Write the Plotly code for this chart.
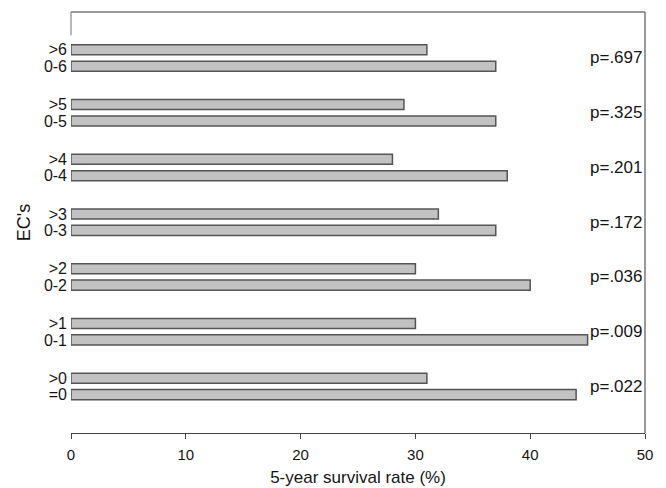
import plotly.graph_objects as go

# Data (group order: bottom to top)
high_labels = [">0", ">1", ">2", ">3", ">4", ">5", ">6"]
low_labels = ["=0", "0-1", "0-2", "0-3", "0-4", "0-5", "0-6"]
high_values = [31, 30, 30, 32, 28, 29, 31]
low_values = [44, 45, 40, 37, 38, 37, 37]
p_values = ["p=.022", "p=.009", "p=.036", "p=.172", "p=.201", "p=.325", "p=.697"]

n = len(high_labels)
offset = 0.15
bar_w = 0.185
groups = list(range(n))
y_high = [g + offset for g in groups]
y_low = [g - offset for g in groups]

font_family = "Liberation Sans, Arial, sans-serif"
txt = "#151515"
bar_fill = "#c2c2c2"
bar_line = "#555555"

fig = go.Figure()
fig.add_trace(go.Bar(
    x=high_values, y=y_high, orientation="h", width=bar_w,
    marker=dict(color=bar_fill, line=dict(color=bar_line, width=1.5)),
    showlegend=False, hoverinfo="x"))
fig.add_trace(go.Bar(
    x=low_values, y=y_low, orientation="h", width=bar_w,
    marker=dict(color=bar_fill, line=dict(color=bar_line, width=1.5)),
    showlegend=False, hoverinfo="x"))

for g, p in zip(groups, p_values):
    fig.add_annotation(x=1, xref="paper", y=g, yref="y", text=p,
                       xanchor="right", yanchor="middle", showarrow=False,
                       xshift=-1,
                       font=dict(family=font_family, size=17, color=txt))

# frame: top and right lines, short left segment at top
fig.add_shape(type="line", xref="paper", yref="paper", x0=0, x1=1, y0=1, y1=1,
              line=dict(color="#333333", width=1.2))
fig.add_shape(type="line", xref="paper", yref="paper", x0=1, x1=1, y0=0, y1=1,
              line=dict(color="#555555", width=1.2))
fig.add_shape(type="line", xref="paper", yref="paper", x0=0, x1=0, y0=0.945, y1=1,
              line=dict(color="#888888", width=1.2))

# page body adds an 8px margin; size/margins compensate for it
fig.update_layout(
    width=658, height=480,
    margin=dict(l=63, r=21, t=4, b=55),
    paper_bgcolor="white", plot_bgcolor="white",
    barmode="overlay",
    font=dict(family=font_family, color=txt),
    xaxis=dict(range=[0, 50], tickvals=[0, 10, 20, 30, 40, 50],
               showgrid=False, zeroline=False, showline=True,
               linecolor="#444444", linewidth=1.2,
               ticks="outside", ticklen=5, tickcolor="#444444",
               ticklabelstandoff=3,
               tickfont=dict(size=15, color=txt),
               title=dict(text="5-year survival rate (%)",
                          font=dict(size=17, color=txt), standoff=9)),
    yaxis=dict(range=[-0.85, 6.84],
               tickvals=y_high + y_low, ticktext=high_labels + low_labels,
               showgrid=False, zeroline=False, showline=False, ticks="",
               ticklabelstandoff=3,
               tickfont=dict(size=16, color=txt),
               title=dict(text="EC's", font=dict(size=18, color=txt), standoff=8)),
)

fig.write_html("out.html")
